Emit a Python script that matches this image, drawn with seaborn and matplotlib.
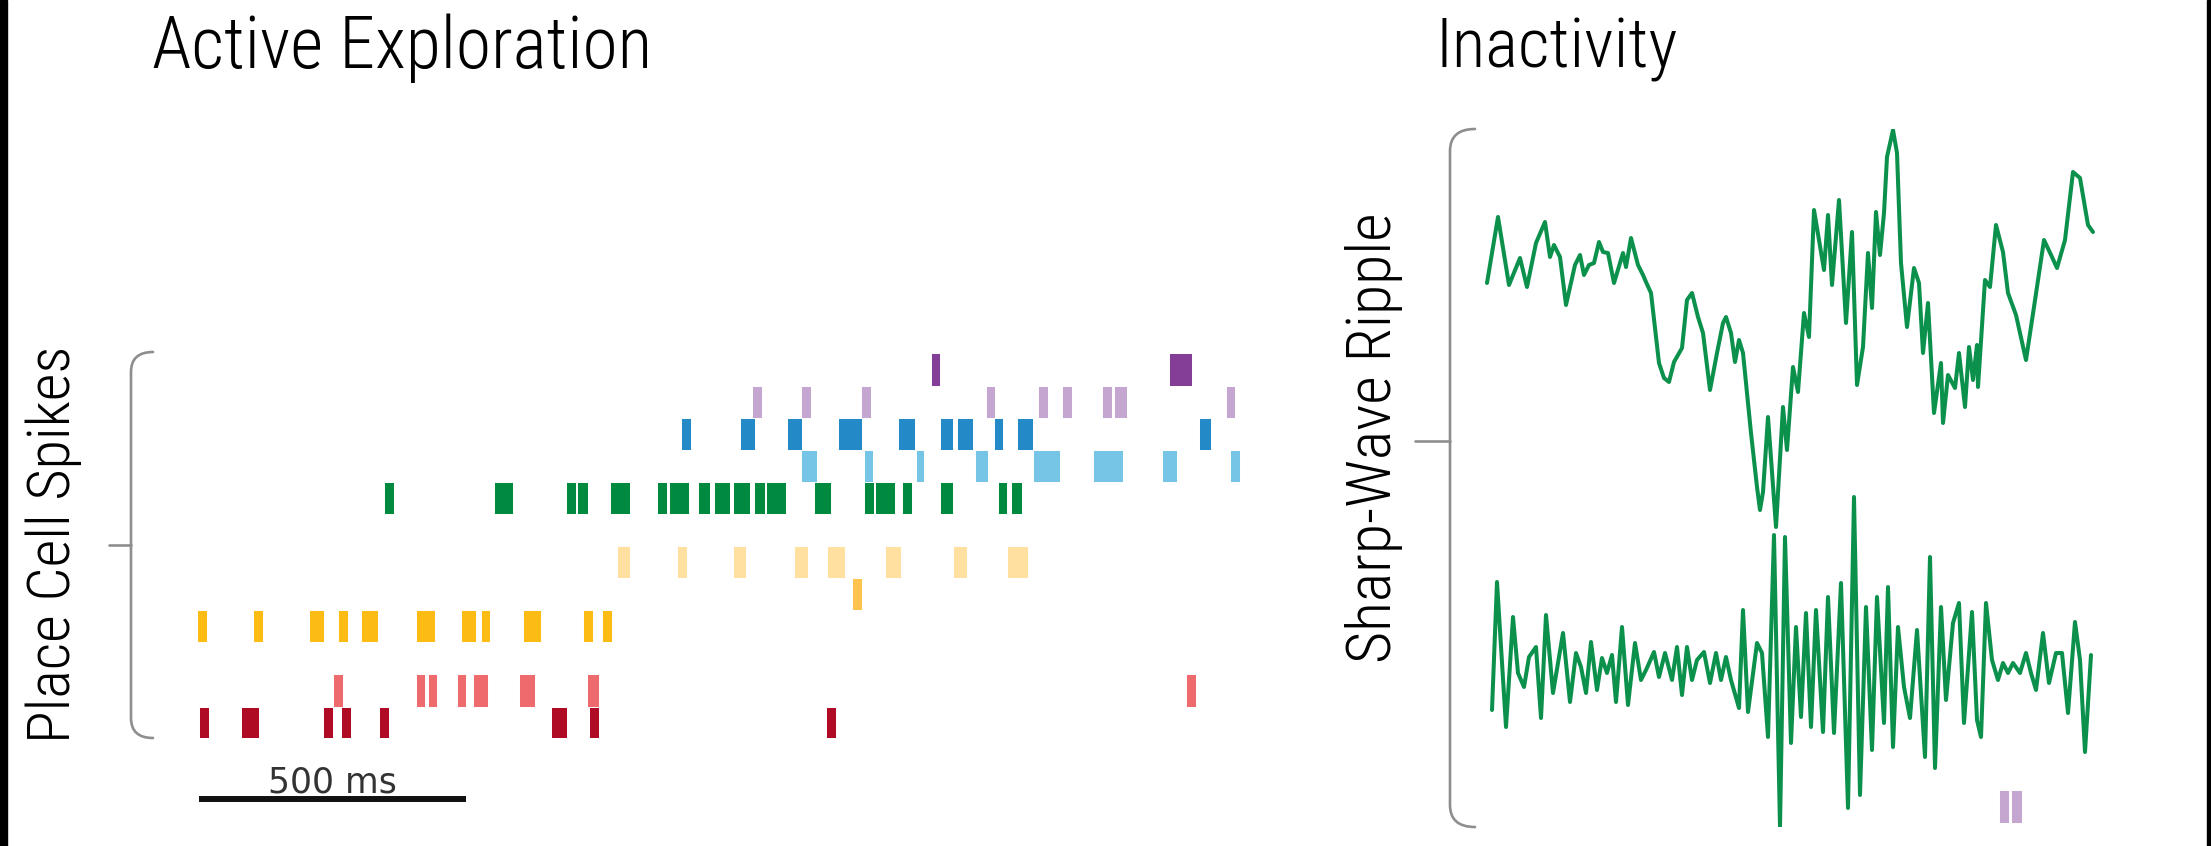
import matplotlib
matplotlib.use("Agg")
import matplotlib.pyplot as plt
import matplotlib.transforms as mtransforms
from matplotlib.path import Path
from matplotlib.patches import PathPatch, Rectangle
from matplotlib.lines import Line2D
from matplotlib import font_manager as fm
import numpy as np
import pandas as pd
import seaborn as sns

# ------------------------------------------------------------------
# DATA
# ------------------------------------------------------------------
# Place-cell raster (active exploration): spike bursts per cell,
# onset (ms) and duration (ms); cells listed top to bottom with their row slot
cell_rows = [0, 1, 2, 3, 4, 6, 7, 8, 10, 11]
cell_colors = ["#853E97", "#C4A6D1", "#2389C7", "#76C5E7", "#008A3F",
               "#FFE0A1", "#FEC34E", "#FDBC14", "#EF6A6C", "#B00B25"]

cell0_on = [1371, 1817]
cell0_dur = [17, 43]
cell1_on = [1036, 1127, 1240, 1474, 1571, 1616, 1691, 1714, 1923]
cell1_dur = [19, 19, 19, 17, 19, 19, 19, 24, 17]
cell2_on = [903, 1013, 1101, 1197, 1309, 1388, 1420, 1489, 1532, 1873]
cell2_dur = [19, 28, 28, 45, 32, 24, 30, 17, 30, 22]
cell3_on = [1127, 1245, 1343, 1453, 1562, 1674, 1803, 1931]
cell3_dur = [30, 17, 15, 24, 51, 56, 28, 19]
cell4_on = [346, 552, 687, 708, 770, 858, 880, 935, 964, 1000, 1039, 1062,
            1152, 1245, 1266, 1317, 1388, 1496, 1521]
cell4_dur = [19, 36, 19, 21, 37, 19, 37, 21, 30, 32, 21, 37,
             32, 19, 37, 19, 24, 17, 21]
cell6_on = [783, 895, 1000, 1114, 1176, 1285, 1412, 1513]
cell6_dur = [24, 19, 24, 26, 34, 30, 26, 39]
cell7_on = [1223]
cell7_dur = [19]
cell8_on = [-4, 101, 206, 260, 303, 406, 491, 528, 607, 719, 755]
cell8_dur = [19, 19, 28, 19, 32, 36, 28, 17, 34, 19, 19]
cell10_on = [251, 406, 429, 483, 513, 599, 727, 1848]
cell10_dur = [19, 17, 17, 17, 28, 30, 22, 19]
cell11_on = [0, 79, 232, 266, 337, 659, 730, 1174]
cell11_dur = [19, 34, 19, 19, 19, 30, 19, 19]

cell_onsets = [cell0_on, cell1_on, cell2_on, cell3_on, cell4_on,
               cell6_on, cell7_on, cell8_on, cell10_on, cell11_on]
cell_durs = [cell0_dur, cell1_dur, cell2_dur, cell3_dur, cell4_dur,
             cell6_dur, cell7_dur, cell8_dur, cell10_dur, cell11_dur]

scalebar_ms = 500

# Sharp-wave (low-pass LFP) trace during inactivity: time (samples), amplitude (a.u.)
sw_t = [0, 11, 22, 33, 40, 49, 58, 63, 67, 73, 79, 88, 93, 97, 102, 107, 112,
        116, 121, 127, 136, 139, 144, 151, 156, 159, 164, 172, 177, 182, 187,
        195, 200, 205, 211, 216, 223, 230, 236, 239, 244, 248, 252, 256, 264,
        270, 273, 276, 281, 289, 296, 300, 306, 311, 317, 322, 327, 332, 337,
        341, 345, 352, 359, 365, 370, 376, 381, 385, 389, 393, 397, 400, 406,
        410, 414, 420, 427, 432, 436, 441, 447, 454, 456, 461, 468, 472, 478,
        482, 486, 490, 491, 498, 503, 509, 516, 521, 529, 539, 547, 557, 565,
        570, 578, 586, 593, 601, 606]
sw_amp = [158, 224, 156, 183, 154, 198, 219, 184, 196, 184, 136, 176, 186,
          166, 176, 178, 199, 189, 188, 158, 188, 174, 203, 176, 166, 159,
          148, 78, 63, 59, 79, 93, 141, 148, 124, 108, 51, 88, 118, 124, 108,
          79, 101, 88, 8, -46, -69, -51, 24, -86, 34, -9, 74, 49, 128, 104,
          231, 201, 171, 226, 156, 241, 118, 209, 56, 94, 188, 133, 229, 186,
          228, 284, 311, 288, 178, 114, 173, 158, 88, 138, 28, 78, 18, 66, 53,
          88, 34, 94, 61, 96, 54, 161, 154, 216, 189, 148, 126, 81, 134, 201,
          184, 173, 201, 269, 263, 216, 209]

# Ripple (band-pass) trace: time (samples), amplitude (a.u.)
rp_t = [5, 10, 19, 26, 31, 37, 42, 49, 54, 59, 66, 76, 83, 89, 94, 99, 104,
        110, 115, 120, 125, 129, 135, 141, 148, 154, 159, 167, 172, 178, 185,
        190, 195, 200, 205, 210, 217, 223, 229, 234, 239, 244, 252, 256, 261,
        270, 275, 281, 287, 293, 298, 304, 309, 314, 319, 324, 329, 336, 341,
        347, 354, 361, 367, 373, 379, 385, 390, 397, 401, 406, 411, 417, 423,
        430, 438, 443, 448, 454, 459, 466, 472, 477, 485, 490, 494, 499, 505,
        511, 516, 521, 526, 533, 539, 544, 549, 556, 562, 569, 575, 581, 588,
        593, 598, 604]
rp_amp = [-269, -141, -286, -176, -232, -246, -216, -206, -277, -174, -252,
          -192, -261, -212, -226, -252, -201, -249, -217, -232, -214, -261,
          -186, -264, -202, -239, -229, -211, -236, -212, -239, -206, -254,
          -206, -239, -219, -211, -242, -212, -239, -216, -239, -267, -169,
          -271, -202, -212, -296, -94, -386, -96, -302, -186, -276, -172,
          -286, -169, -291, -156, -292, -142, -367, -56, -354, -166, -309,
          -156, -282, -146, -306, -186, -246, -277, -189, -316, -116, -327,
          -166, -259, -182, -162, -282, -171, -279, -296, -162, -219, -239,
          -222, -232, -222, -232, -212, -232, -249, -192, -242, -212, -212,
          -272, -181, -219, -311, -214]

# spikes of one cell during the ripple: onset, duration (samples)
rp_spike_on = [512, 524]
rp_spike_dur = [10, 11]

# ------------------------------------------------------------------
# FIGURE
# ------------------------------------------------------------------
sns.set_theme(style="white")
W, H = 2211, 846
fig = plt.figure(figsize=(W / 100, H / 100), dpi=100)
fig.patch.set_facecolor("white")

avail = fm.fontManager.ttflist
names = {f.name for f in avail}
lab_font = dict(family="DejaVu Sans")
for cand in ["Roboto Condensed", "Liberation Sans Narrow", "Open Sans Condensed",
             "Noto Sans Condensed", "Roboto"]:
    if cand in names:
        lab_font = dict(family=cand, fontweight="light")
        break


def px_axes(x0, y0, x1, y1):
    """x0,y0 = top-left pixel; x1,y1 = bottom-right pixel"""
    return fig.add_axes([x0 / W, 1 - y1 / H, (x1 - x0) / W, (y1 - y0) / H])


def bracket(ax, wpx, hpx, tick_frac, tick_px, cx_px=22, cy_px=20,
            color="#8E8E8E", lw=1.9):
    cx, cy = cx_px / wpx, cy_px / hpx
    verts = [(cx, 1), (0, 1), (0, 1 - cy), (0, cy), (0, 0), (cx, 0)]
    codes = [Path.MOVETO, Path.CURVE3, Path.CURVE3, Path.LINETO,
             Path.CURVE3, Path.CURVE3]
    ax.add_patch(PathPatch(Path(verts, codes), transform=ax.transAxes,
                           fill=False, ec=color, lw=lw, clip_on=False,
                           capstyle="round"))
    ax.add_line(Line2D([-tick_px / wpx, 0], [tick_frac, tick_frac],
                       transform=ax.transAxes, color=color, lw=lw,
                       clip_on=False))


# ---------------- left: raster ----------------
L_x0, L_y0, L_x1, L_y1 = 131, 352, 1260, 738
ax1 = px_axes(L_x0, L_y0, L_x1, L_y1)
ms_per_px = scalebar_ms / 267.0
ax1.set_xlim((L_x0 - 199) * ms_per_px, (L_x1 - 199) * ms_per_px)
row_px = 32.1
ax1.set_ylim((L_y1 - 369.5) / row_px, (L_y0 - 369.5) / row_px)
ax1.axis("off")

for row, col, on, dur in zip(cell_rows, cell_colors, cell_onsets, cell_durs):
    ax1.broken_barh(list(zip(on, dur)), (row - 0.5, 1.0), facecolors=col,
                    edgecolors="white", linewidth=0.7)

bracket(ax1, L_x1 - L_x0, L_y1 - L_y0, 0.5, 22)

# scale bar
blend = mtransforms.blended_transform_factory(ax1.transData, fig.transFigure)
ax1.add_line(Line2D([0, scalebar_ms], [1 - 799 / H, 1 - 799 / H],
                    transform=blend, color="#111111", lw=4.3,
                    solid_capstyle="butt", clip_on=False))
ax1.text(scalebar_ms / 2, 1 - 792 / H, f"{scalebar_ms} ms", transform=blend,
         ha="center", va="baseline", fontsize=25, color="#333333",
         family="DejaVu Sans")

# ---------------- right: sharp-wave ripple ----------------
R_x0, R_y0, R_x1, R_y1 = 1450, 129, 2150, 827
ax2 = px_axes(R_x0, R_y0, R_x1, R_y1)
ax2.set_xlim(R_x0 - 1487, R_x1 - 1487)
ax2.set_ylim(441 - R_y1, 441 - R_y0)
line_kw = dict(color="#0C914D", linewidth=2.9, estimator=None, sort=False)
sns.lineplot(x=sw_t, y=sw_amp, ax=ax2, **line_kw)
sns.lineplot(x=rp_t, y=rp_amp, ax=ax2, **line_kw)
for ln in ax2.get_lines():
    ln.set_solid_joinstyle("round")
    ln.set_solid_capstyle("round")
ax2.bar(rp_spike_on, 33, width=rp_spike_dur, bottom=-382, align="edge",
        color="#C4A6D1", edgecolor="white", linewidth=0.7)
ax2.axis("off")
bracket(ax2, R_x1 - R_x0, R_y1 - R_y0, (R_y1 - 441) / (R_y1 - R_y0), 35,
        cx_px=25, cy_px=22)

# ---------------- texts ----------------
t1 = fig.text(402 / W, 1 - 68 / H, "Active Exploration", ha="center",
              va="baseline", fontsize=50, color="black", **lab_font)
t2 = fig.text(1557 / W, 1 - 68 / H, "Inactivity", ha="center",
              va="baseline", fontsize=50, color="black", **lab_font)
t3 = fig.text(54 / W, 1 - 544 / H, "Place Cell Spikes", ha="center",
              va="center", rotation=90, fontsize=40, color="black", **lab_font)
t4 = fig.text(1374 / W, 1 - 438 / H, "Sharp-Wave Ripple", ha="center",
              va="center", rotation=90, fontsize=40, color="black", **lab_font)

for _ in range(2):
    fig.canvas.draw()
    r = fig.canvas.get_renderer()
    for txt, target, dim in [(t1, 500, "w"), (t2, 242, "w"),
                             (t3, 398, "h"), (t4, 451, "h")]:
        bb = txt.get_window_extent(r)
        cur = bb.width if dim == "w" else bb.height
        txt.set_fontsize(txt.get_fontsize() * target / cur)

# black frame edges
fig.add_artist(Rectangle((0, 0), 7 / W, 1, transform=fig.transFigure,
                         color="black", zorder=10))
fig.add_artist(Rectangle((2207 / W, 0), 4 / W, 1, transform=fig.transFigure,
                         color="black", zorder=10))

fig.savefig("out.png", dpi=100, facecolor="white")
